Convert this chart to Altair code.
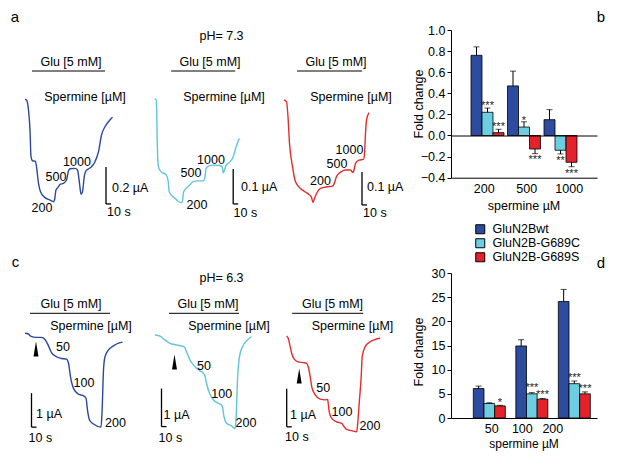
import altair as alt
import pandas as pd

FONT = "Liberation Sans"
W, H = 601, 453


def px(v):
    # page pixel -> chart pixel (8px page margin)
    return v - 8


# ------------------------------------------------------------------ DATA
# Panel a (pH 7.3) traces: time (s), current (µA)
a1_t = [0, 3, 7, 10, 12, 15, 21, 23, 27, 31, 40, 50, 57, 59, 62, 67, 70, 77, 83, 87,
        90, 100, 105, 109, 112, 115, 119, 122, 127, 133, 140, 147, 153, 160, 167, 175]
a1_i = [0, -0.004, -0.058, -0.166, -0.310, -0.332, -0.335, -0.364, -0.454, -0.499,
        -0.531, -0.544, -0.553, -0.544, -0.490, -0.472, -0.459, -0.454, -0.436, -0.386,
        -0.375, -0.373, -0.382, -0.454, -0.513, -0.499, -0.409, -0.386, -0.376, -0.364,
        -0.337, -0.283, -0.193, -0.148, -0.121, -0.097]
a2_t = [0, 3, 4, 5, 7, 10, 17, 23, 27, 29, 33, 43, 51, 55, 58, 63, 70, 77, 87, 97,
        100, 103, 108, 117, 130, 135, 137, 140, 143, 151, 157, 162, 169]
a2_i = [0, 0, -0.031, -0.116, -0.188, -0.202, -0.211, -0.216, -0.235, -0.264, -0.273,
        -0.286, -0.295, -0.293, -0.264, -0.254, -0.245, -0.235, -0.233, -0.233, -0.226,
        -0.197, -0.191, -0.188, -0.189, -0.194, -0.210, -0.200, -0.188, -0.178, -0.164,
        -0.140, -0.111]
a3_t = [0, 5, 8, 11, 17, 23, 33, 47, 55, 58, 61, 67, 73, 87, 97, 100, 105, 112, 123,
        133, 138, 140, 143, 150, 159, 161, 163, 165, 170]
a3_i = [0, -0.005, -0.051, -0.131, -0.202, -0.248, -0.268, -0.283, -0.295, -0.311,
        -0.298, -0.278, -0.268, -0.263, -0.261, -0.255, -0.232, -0.220, -0.212, -0.212,
        -0.220, -0.212, -0.192, -0.182, -0.180, -0.162, -0.101, -0.061, -0.038]

# Panel c (pH 6.3) traces
c1_t = [0, 7, 11, 23, 33, 40, 47, 53, 63, 73, 83, 87, 91, 97, 107, 117, 122, 125, 129,
        137, 152, 154, 157, 160, 167, 177, 187, 195]
c1_i = [0, -0.02, -0.08, -0.12, -0.12, -0.18, -0.37, -0.57, -0.69, -0.74, -0.76, -0.88,
        -1.28, -1.62, -1.79, -1.84, -1.91, -2.26, -2.55, -2.67, -2.76, -2.35, -1.08,
        -0.69, -0.49, -0.37, -0.29, -0.26]
c2_t = [0, 10, 20, 30, 43, 53, 59, 63, 70, 77, 87, 97, 100, 103, 109, 117, 127, 133,
        135, 138, 143, 153, 160, 162, 165, 169, 175, 185, 193]
c2_i = [0, -0.03, -0.13, -0.22, -0.26, -0.29, -0.32, -0.44, -0.66, -0.79, -0.92, -1.01,
        -1.08, -1.27, -1.53, -1.71, -1.80, -1.84, -1.90, -2.15, -2.32, -2.39, -2.46,
        -2.24, -1.18, -0.57, -0.31, -0.13, -0.04]
c3_t = [0, 3, 7, 10, 15, 23, 33, 40, 43, 47, 50, 57, 67, 77, 82, 83, 85, 90, 100, 110,
        115, 120, 130, 140, 142, 145, 149, 151, 157, 167, 177, 187]
c3_i = [0, -0.06, -0.28, -0.46, -0.61, -0.68, -0.70, -0.72, -0.81, -1.07, -1.33, -1.55,
        -1.66, -1.68, -1.67, -1.77, -1.99, -2.17, -2.26, -2.30, -2.39, -2.46, -2.49,
        -2.52, -2.30, -1.77, -1.07, -0.54, -0.28, -0.15, -0.09, -0.06]

# Glu application (s), scale bars, arrowheads
a_glu = [[14, 160], [33, 161], [26, 156]]
c_glu = [[10, 170], [28, 168], [11, 153]]
TIME_BAR = 10  # s
a_sb_t = [162, 157, 156]
a_sb_low = [-0.565, -0.299, -0.318]
a_sb_amp = [0.2, 0.1, 0.1]
c_sb_t = [13, 13, 0]
c_sb_low = [-2.76, -2.41, -2.39]
c_sb_amp = [1, 1, 1]
c_arrow_t = [22, 39, 25]
c_arrow_i = [-0.46, -0.71, -1.05]

# Bar charts
series = ["GluN2Bwt", "GluN2B-G689C", "GluN2B-G689S"]
bar_colors = ["#2D4B9F", "#6CCEE0", "#E4222B"]

b_cats = ["200", "500", "1000"]
b_wt = [0.76, 0.47, 0.15]
b_wt_err = [0.08, 0.14, 0.095]
b_c = [0.22, 0.08, -0.14]
b_c_err = [0.04, 0.05, 0.035]
b_s = [0.027, -0.128, -0.254]
b_s_err = [0.032, 0.044, 0.042]
b_star_c = ["***", "*", "**"]
b_star_c_y = [0.305, 0.17, -0.21]
b_star_s = ["***", "***", "***"]
b_star_s_y = [0.11, -0.20, -0.336]

d_cats = ["50", "100", "200"]
d_wt = [6.1, 14.9, 24.1]
d_wt_err = [0.5, 1.3, 2.5]
d_c = [3.0, 5.0, 7.1]
d_c_err = [0.15, 0.25, 0.55]
d_s = [2.5, 3.9, 5.0]
d_s_err = [0.12, 0.15, 0.4]
d_star_c = ["", "***", "***"]
d_star_c_y = [0, 6.8, 9.0]
d_star_s = ["*", "***", "***"]
d_star_s_y = [3.8, 5.4, 6.6]

TRACE_COLORS = ["#2C47A0", "#5FC6D8", "#E52B2D"]

# ------------------------------------------------------------------ HELPERS
layers = []


def text_layer(s, x, y, size=12.5, align="center", angle=0):
    return alt.Chart(pd.DataFrame({"s": [s]})).mark_text(
        font=FONT, fontSize=size, align=align, baseline="middle", angle=angle, color="black"
    ).encode(text="s:N", x=alt.value(px(x)), y=alt.value(px(y)))


ARROW = "M0,-1L0.33,1L-0.33,1Z"


def trace_layers(t, i, color, x_start, ydom, y_zero, y_bottom, sb_t, sb_low, sb_amp,
                 glu, glu_y, arrow=None):
    xs = alt.Scale(domain=[0, 200], range=[px(x_start), px(x_start) + 100], nice=False, zero=False)
    ys = alt.Scale(domain=ydom, range=[px(y_bottom), px(y_zero)], nice=False, zero=False)
    out = []
    out.append(alt.Chart(pd.DataFrame({"t": t, "i": i})).mark_line(
        color=color, strokeWidth=1.4, interpolate="monotone").encode(
        x=alt.X("t:Q", scale=xs, axis=None), y=alt.Y("i:Q", scale=ys, axis=None)))
    sb = pd.DataFrame({"x": [sb_t, sb_t], "x2": [sb_t, sb_t + TIME_BAR],
                       "y": [sb_low, sb_low], "y2": [sb_low + sb_amp, sb_low]})
    out.append(alt.Chart(sb).mark_rule(color="black", strokeWidth=1.3).encode(
        x=alt.X("x:Q", scale=xs, axis=None), x2="x2:Q",
        y=alt.Y("y:Q", scale=ys, axis=None), y2="y2:Q"))
    g = pd.DataFrame({"on": [glu[0]], "off": [glu[1]]})
    out.append(alt.Chart(g).mark_rule(color="black", strokeWidth=1).encode(
        x=alt.X("on:Q", scale=xs, axis=None), x2="off:Q", y=alt.value(px(glu_y))))
    if arrow is not None:
        out.append(alt.Chart(pd.DataFrame({"t": [arrow[0]], "i": [arrow[1]]})).mark_point(
            shape=ARROW, size=225, filled=True, color="black", opacity=1, strokeWidth=0).encode(
            x=alt.X("t:Q", scale=xs, axis=None), y=alt.Y("i:Q", scale=ys, axis=None)))
    return out


LEGEND = alt.Legend(orient="none", legendX=466, legendY=215, title=None,
                    symbolType="square", symbolSize=81, symbolStrokeColor="black",
                    symbolStrokeWidth=1, labelFontSize=12.5, labelFont=FONT,
                    labelColor="black", rowPadding=0, labelOffset=6, padding=0)


def bar_layers(cats, wt, wt_e, c, c_e, s, s_e, st_c, st_c_y, st_s, st_s_y,
               p_in, p_out, align, ydom, y_bottom_px, y_top_px, yvals, yfmt,
               x_axis_px, zero_px, lab_range, lab_y):
    rows, stars = [], []
    for k, cat in enumerate(cats):
        for ser, vals, errs in ((series[0], wt, wt_e), (series[1], c, c_e), (series[2], s, s_e)):
            v, e = vals[k], errs[k]
            rows.append({"cat": cat, "s": ser, "v": v, "end": v + e if v >= 0 else v - e})
        if st_c[k]:
            stars.append({"cat": cat, "s": series[1], "y": st_c_y[k], "txt": st_c[k]})
        if st_s[k]:
            stars.append({"cat": cat, "s": series[2], "y": st_s_y[k], "txt": st_s[k]})
    df = pd.DataFrame(rows)
    sdf = pd.DataFrame(stars)

    xs = alt.Scale(type="band", domain=cats, range=[px(451), px(597)],
                   paddingInner=p_in, paddingOuter=p_out, align=align)
    xo = alt.Scale(type="band", domain=series, paddingInner=0, paddingOuter=0)
    ys = alt.Scale(domain=ydom, range=[px(y_bottom_px), px(y_top_px)], nice=False, zero=False)
    cs = alt.Scale(domain=series, range=bar_colors)

    y_axis = alt.Axis(orient="left", offset=-px(451), values=yvals, format=yfmt, title=None,
                      grid=False, domainColor="black", domainWidth=1, tickColor="black",
                      tickWidth=1, tickSize=4, labelFont=FONT, labelFontSize=12.5,
                      labelColor="black", labelPadding=2)
    x_axis = alt.Axis(orient="bottom", offset=px(x_axis_px) - H, labels=False, ticks=False,
                      domainColor="black", domainWidth=1, title=None, grid=False)

    out = []
    out.append(alt.Chart(df).mark_bar(stroke="black", strokeWidth=0.8, opacity=1).encode(
        x=alt.X("cat:N", scale=xs, axis=x_axis),
        xOffset=alt.XOffset("s:N", scale=xo),
        y=alt.Y("v:Q", scale=ys, axis=y_axis),
        color=alt.Color("s:N", scale=cs, legend=LEGEND)))
    if zero_px is not None:
        err_x_axis = alt.Axis(orient="top", offset=-px(zero_px), labels=False, ticks=False,
                              domainColor="black", domainWidth=1, title=None, grid=False, zindex=1)
    else:
        err_x_axis = None
    out.append(alt.Chart(df).mark_rule(color="black", strokeWidth=1).encode(
        x=alt.X("cat:N", scale=xs, axis=err_x_axis),
        xOffset=alt.XOffset("s:N", scale=xo),
        y=alt.Y("v:Q", scale=ys, axis=None), y2="end:Q"))
    out.append(alt.Chart(df).mark_tick(color="black", thickness=1, size=6, orient="horizontal").encode(
        x=alt.X("cat:N", scale=xs, axis=None),
        xOffset=alt.XOffset("s:N", scale=xo),
        y=alt.Y("end:Q", scale=ys, axis=None)))
    out.append(alt.Chart(sdf).mark_text(font=FONT, fontSize=11, color="#222222",
                                        baseline="alphabetic", dy=6).encode(
        x=alt.X("cat:N", scale=xs, axis=None),
        xOffset=alt.XOffset("s:N", scale=xo),
        y=alt.Y("y:Q", scale=ys, axis=None), text="txt:N"))
    out.append(alt.Chart(pd.DataFrame({"cat": cats})).mark_text(
        font=FONT, fontSize=12.5, color="black", baseline="middle").encode(
        x=alt.X("cat:N", scale=alt.Scale(type="point", domain=cats,
                                         range=[px(lab_range[0]), px(lab_range[1])], padding=0),
                axis=None),
        y=alt.value(px(lab_y)), text="cat:N"))
    return out


# ------------------------------------------------------------------ PANEL a
a_traces = [(a1_t, a1_i), (a2_t, a2_i), (a3_t, a3_i)]
a_x_start = [25, 154.7, 284]
a_ydom = [[-0.6, 0], [-0.3, 0], [-0.3, 0]]
a_y_zero = [99.3, 99.3, 100]
a_y_bottom = [210.4, 204.3, 199]
for k in range(3):
    layers += trace_layers(a_traces[k][0], a_traces[k][1], TRACE_COLORS[k], a_x_start[k],
                           a_ydom[k], a_y_zero[k], a_y_bottom[k], a_sb_t[k], a_sb_low[k],
                           a_sb_amp[k], a_glu[k], 71)

# ------------------------------------------------------------------ PANEL c
c_traces = [(c1_t, c1_i), (c2_t, c2_i), (c3_t, c3_i)]
c_x_start = [25, 155, 286.7]
c_y_zero = [333.3, 335, 336]
c_y_bottom = [435.3, 449, 450]
for k in range(3):
    layers += trace_layers(c_traces[k][0], c_traces[k][1], TRACE_COLORS[k], c_x_start[k],
                           [-3, 0], c_y_zero[k], c_y_bottom[k], c_sb_t[k], c_sb_low[k],
                           c_sb_amp[k], c_glu[k], 313.3, arrow=(c_arrow_t[k], c_arrow_i[k]))

# ------------------------------------------------------------------ TEXT
labels = [
    ("a", 15, 17, 15, "center", 0),
    ("pH= 7.3", 221.5, 36, 12.5, "center", 0),
    ("Glu [5 mM]", 71, 62, 12.5, "center", 0),
    ("Spermine [µM]", 85, 97, 12.5, "center", 0),
    ("200", 42, 208, 12.5, "center", 0),
    ("500", 56, 177, 12.5, "center", 0),
    ("1000", 77, 162, 12.5, "center", 0),
    ("0.2 µA", 112, 188, 12.5, "left", 0),
    ("10 s", 107, 212, 12.5, "left", 0),
    ("Glu [5 mM]", 210, 62, 12.5, "center", 0),
    ("Spermine [µM]", 224, 97, 12.5, "center", 0),
    ("200", 197, 205, 12.5, "center", 0),
    ("500", 191, 173, 12.5, "center", 0),
    ("1000", 211, 159.5, 12.5, "center", 0),
    ("0.1 µA", 241, 187, 12.5, "left", 0),
    ("10 s", 233.5, 213, 12.5, "left", 0),
    ("Glu [5 mM]", 336, 62, 12.5, "center", 0),
    ("Spermine [µM]", 351, 97, 12.5, "center", 0),
    ("200", 320.5, 181, 12.5, "center", 0),
    ("500", 337, 164, 12.5, "center", 0),
    ("1000", 349.5, 149.5, 12.5, "center", 0),
    ("0.1 µA", 367, 187, 12.5, "left", 0),
    ("10 s", 363, 213, 12.5, "left", 0),
    ("b", 601, 17, 15, "center", 0),
    ("Fold change", 419, 104, 12.5, "center", 270),
    ("spermine µM", 524, 206, 12.5, "center", 0),
    ("c", 15.5, 262, 15, "center", 0),
    ("pH= 6.3", 221.5, 278, 12.5, "center", 0),
    ("Glu [5 mM]", 71, 304, 12.5, "center", 0),
    ("Spermine [µM]", 91, 325.5, 12.5, "center", 0),
    ("50", 63, 347, 12.5, "center", 0),
    ("100", 84, 383, 12.5, "center", 0),
    ("200", 115.5, 423, 12.5, "center", 0),
    ("1 µA", 36, 414, 12.5, "left", 0),
    ("10 s", 28.5, 438, 12.5, "left", 0),
    ("Glu [5 mM]", 208, 304, 12.5, "center", 0),
    ("Spermine [µM]", 229, 325.5, 12.5, "center", 0),
    ("50", 204, 366, 12.5, "center", 0),
    ("100", 221.7, 394, 12.5, "center", 0),
    ("200", 246, 423.3, 12.5, "center", 0),
    ("1 µA", 163.5, 415, 12.5, "left", 0),
    ("10 s", 158.5, 437.5, 12.5, "left", 0),
    ("Glu [5 mM]", 332.5, 304, 12.5, "center", 0),
    ("Spermine [µM]", 352.5, 325.5, 12.5, "center", 0),
    ("50", 323.3, 388.3, 12.5, "center", 0),
    ("100", 342, 411.7, 12.5, "center", 0),
    ("200", 370, 426, 12.5, "center", 0),
    ("1 µA", 290, 415, 12.5, "left", 0),
    ("10 s", 285, 437, 12.5, "left", 0),
    ("d", 601, 263, 15, "center", 0),
    ("Fold change", 419, 352, 12.5, "center", 270),
    ("spermine µM", 524, 443.5, 12, "center", 0),
]
for s, x, y, size, align, angle in labels:
    layers.append(text_layer(s, x, y, size, align, angle))

# ------------------------------------------------------------------ PANEL b / d
layers += bar_layers(b_cats, b_wt, b_wt_err, b_c, b_c_err, b_s, b_s_err,
                     b_star_c, b_star_c_y, b_star_s, b_star_s_y,
                     0.096, 0.548, 0.5, [-0.4, 1.0], 177.7, 30,
                     [-0.4, -0.2, 0.0, 0.2, 0.4, 0.6, 0.8, 1.0], ".1f",
                     177.7, 135.5, (484.2, 569.2), 189)
layers += bar_layers(d_cats, d_wt, d_wt_err, d_c, d_c_err, d_s, d_s_err,
                     d_star_c, d_star_c_y, d_star_s, d_star_s_y,
                     0.247, 0.341, 0.77, [0, 30], 418, 273,
                     [0, 5, 10, 15, 20, 25, 30], "d",
                     418, None, (491.8, 552.8), 429)

chart = alt.layer(*layers).resolve_scale(
    x="independent", y="independent", xOffset="independent"
).properties(
    width=W, height=H, autosize=alt.AutoSizeParams(type="none"), padding=0
).configure_view(stroke=None)

chart.save("out.html", embed_options={"renderer": "svg", "actions": False})
